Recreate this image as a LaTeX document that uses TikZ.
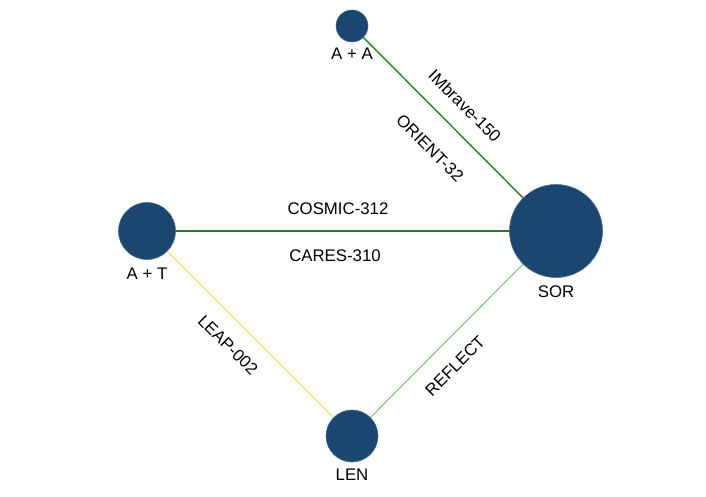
\documentclass[tikz,border=0pt]{standalone}
\usepackage{fontspec}
\setmainfont{Liberation Sans}
\definecolor{nodeblue}{HTML}{1A4670}
\definecolor{darkgr}{HTML}{238023}
\definecolor{lightgr}{HTML}{72B86C}
\definecolor{yel}{HTML}{F2D94A}
\begin{document}
\begin{tikzpicture}[x=1pt,y=-1pt,
  trt/.style={circle,fill=nodeblue,draw=nodeblue!80!white,line width=0.6pt,inner sep=0pt},
  lbl/.style={font=\fontsize{16.8}{17}\selectfont,inner sep=0pt},
  edgedark/.style={darkgr,line width=1.4pt},
  edgelight/.style={lightgr,line width=0.9pt},
  edgeyel/.style={yel,line width=0.9pt}]
\useasboundingbox (0,0) rectangle (706,496);
\node[trt,minimum size=32pt] (AA) at (352,26) {};
\node[trt,minimum size=57pt] (AT) at (147,231) {};
\node[trt,minimum size=93pt] (SOR) at (556,231) {};
\node[trt,minimum size=52pt] (LEN) at (352,436) {};
\draw[edgedark] (AA) -- (SOR);
\draw[edgedark] (AT) -- (SOR);
\draw[edgeyel] (AT) -- (LEN);
\draw[edgelight] (LEN) -- (SOR);
\node[lbl] (lAA) at (352,54) {A + A};
\node[lbl] (lAT) at (147,274) {A + T};
\node[lbl] (lSOR) at (556,292) {SOR};
\node[lbl] (lLEN) at (352,475) {LEN};
\node[lbl,rotate=-45] (e1) at (465,106) {IMbrave-150};
\node[lbl,rotate=-45] (e2) at (430,148) {ORIENT-32};
\node[lbl] (e3) at (338,209) {COSMIC-312};
\node[lbl] (e4) at (335,256) {CARES-310};
\node[lbl,rotate=-45] (e5) at (228,345) {LEAP-002};
\node[lbl,rotate=45] (e6) at (455,366) {REFLECT};
\end{tikzpicture}
\end{document}
